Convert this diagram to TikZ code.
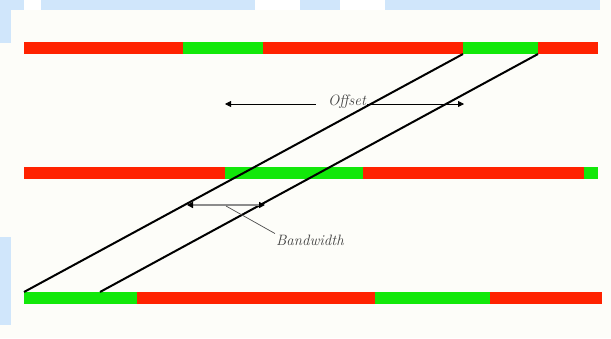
\documentclass[tikz,border=0pt]{standalone}
\usetikzlibrary{arrows.meta,calc}
\definecolor{barred}{RGB}{255,34,0}
\definecolor{bargreen}{RGB}{18,232,10}
\definecolor{bgpaper}{RGB}{253,253,249}
\definecolor{wmblue}{RGB}{208,230,251}
\tikzset{
  diag/.style={line width=2pt,black},
  dimarrow/.style={line width=0.8pt,-{Triangle[length=6pt,width=6pt]}},
  bwarrow/.style={line width=1.6pt,black!45,{Triangle[length=6pt,width=6pt,black]}-{Triangle[length=6pt,width=6pt,black]}},
  lbl/.style={font=\fontsize{15}{17}\selectfont\itshape,inner sep=1pt,text=black!75}
}
\begin{document}
\begin{tikzpicture}[x=1pt,y=-1pt]
\useasboundingbox (0,0) rectangle (611,338);
% background
\fill[bgpaper] (0,0) rectangle (611,338);
\fill[wmblue] (0,0) rectangle (600,10);
\fill[white] (24,0) rectangle (41,10);
\fill[white] (255,0) rectangle (300,10);
\fill[white] (340,0) rectangle (385,10);
\fill[wmblue] (0,0) rectangle (11,43);
\fill[wmblue] (0,237) rectangle (11,325);
% top bar
\fill[barred]   (24,42) rectangle (183,54);
\fill[bargreen] (183,42) rectangle (263,54);
\fill[barred]   (263,42) rectangle (463,54);
\fill[bargreen] (463,42) rectangle (538,54);
\fill[barred]   (538,42) rectangle (598,54);
% middle bar
\fill[barred]   (24,167) rectangle (225,179);
\fill[bargreen] (225,167) rectangle (363,179);
\fill[barred]   (363,167) rectangle (584,179);
\fill[bargreen] (584,167) rectangle (598,179);
% bottom bar
\fill[bargreen] (24,292) rectangle (137,304);
\fill[barred]   (137,292) rectangle (375,304);
\fill[bargreen] (375,292) rectangle (490,304);
\fill[barred]   (490,292) rectangle (602,304);
% diagonal lines
\coordinate (a1) at (24,292);
\coordinate (b1) at (463,54);
\coordinate (a2) at (100,292);
\coordinate (b2) at (538,54);
\draw[diag] (a1) -- (b1);
\draw[diag] (a2) -- (b2);
% offset
\node[lbl] (off) at (347,102) {Offset};
\coordinate (offL) at (225,104);
\coordinate (offR) at (464,104);
\draw[dimarrow] (off.west |- offL) ++(-11,0) -- (offL);
\draw[dimarrow] (off.east |- offR) ++(0,0) -- (offR);
% bandwidth
\coordinate (bwL) at (187,205);
\coordinate (bwR) at (265,205);
\draw[bwarrow] (bwL) -- (bwR);
\node[lbl] (bw) at (310,240) {Bandwidth};
\coordinate (bwM) at (226,206);
\draw[line width=0.7pt,black!70] (bwM) -- (bw.north west);
\end{tikzpicture}
\end{document}
